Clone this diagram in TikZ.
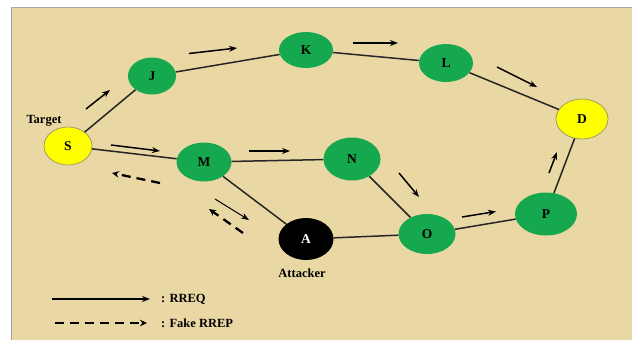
\documentclass[tikz,border=0pt]{standalone}
\usepackage{fontspec}
\setmainfont{Liberation Serif}
\usetikzlibrary{arrows.meta,shapes.geometric}
\definecolor{tan}{RGB}{234,216,164}
\definecolor{ngreen}{RGB}{22,168,78}
\definecolor{nyellow}{RGB}{255,255,0}
\definecolor{yedge}{RGB}{150,150,100}
\tikzset{
  edge/.style={line width=1.5pt,black!85},
  msg/.style={line width=1.5pt,-{Stealth[length=8pt,width=6pt]}},
  fake/.style={line width=2.3pt,dash pattern=on 9pt off 6pt,-{Stealth[length=7pt,width=6.5pt]}},
  lbl/.style={font=\fontsize{12.5}{14}\selectfont\bfseries,inner sep=0pt},
}
\newcommand{\enode}[7]{\fill[#6] (#2,#3) ellipse [x radius=#4,y radius=#5];
  \node[inner sep=0pt,minimum width=2*#4pt,minimum height=2*#5pt,ellipse,text=#7,font=\fontsize{13.5}{15}\selectfont\bfseries] (#1) at (#2,#3) {#1};}
\begin{document}
\begin{tikzpicture}[x=1pt,y=-1pt]
\useasboundingbox (0,0) rectangle (632,340);
\fill[white] (0,0) rectangle (632,340);
\fill[tan] (11,7) rectangle (632,340);
\draw[gray!70,line width=1pt] (11,340) -- (11,7) -- (632,7);
% nodes
\enode{S}{68}{146}{24}{19}{nyellow}{black}
\draw[yedge,line width=0.7pt] (S.center) ellipse [x radius=24,y radius=19];
\enode{J}{152}{76}{24}{18.5}{ngreen}{black}
\enode{K}{306}{50}{27}{18}{ngreen}{black}
\enode{L}{446}{63}{27}{19}{ngreen}{black}
\enode{D}{582}{119}{26}{20}{nyellow}{black}
\draw[yedge,line width=0.7pt] (D.center) ellipse [x radius=26,y radius=20];
\enode{M}{204}{162}{27.5}{19.5}{ngreen}{black}
\enode{N}{352}{159}{28.5}{21.5}{ngreen}{black}
\enode{O}{427}{234}{28.5}{20}{ngreen}{black}
\enode{P}{546}{214}{31}{21.5}{ngreen}{black}
\enode{A}{306}{239}{27.5}{21}{black}{white}
% edges
\draw[edge] (S) -- (J);
\draw[edge] (J) -- (K);
\draw[edge] (K) -- (L);
\draw[edge] (L) -- (D);
\draw[edge] (D) -- (P);
\draw[edge] (P) -- (O);
\draw[edge] (O) -- (N);
\draw[edge] (N) -- (M);
\draw[edge] (M) -- (S);
\draw[edge] (M) -- (A);
\draw[edge] (A) -- (O);
% labels
\node[lbl] (tgt) at (44,121) {Target};
\node[lbl] (att) at (302,273) {Attacker};
% message arrows
\coordinate (a1s) at (86,109); \coordinate (a1e) at (110,90);
\coordinate (a2s) at (189,53.5); \coordinate (a2e) at (237,48);
\coordinate (a3s) at (353,43); \coordinate (a3e) at (398,43);
\coordinate (a4s) at (497,67); \coordinate (a4e) at (537,87);
\coordinate (a5s) at (549,173); \coordinate (a5e) at (557,152);
\coordinate (a6s) at (462,217); \coordinate (a6e) at (496,211.5);
\coordinate (a7s) at (399,173); \coordinate (a7e) at (419,197);
\coordinate (a8s) at (249,151); \coordinate (a8e) at (290,151);
\coordinate (a9s) at (111,145); \coordinate (a9e) at (160,151);
\coordinate (a10s) at (215,199); \coordinate (a10e) at (249,220);
\draw[msg] (a1s) -- (a1e);
\draw[msg] (a2s) -- (a2e);
\draw[msg] (a3s) -- (a3e);
\draw[msg] (a4s) -- (a4e);
\draw[msg] (a5s) -- (a5e);
\draw[msg] (a6s) -- (a6e);
\draw[msg] (a7s) -- (a7e);
\draw[msg] (a8s) -- (a8e);
\draw[msg] (a9s) -- (a9e);
\draw[msg,line width=1pt] (a10s) -- (a10e);
\coordinate (f1s) at (160,183); \coordinate (f1e) at (112,173);
\coordinate (f2s) at (243,233); \coordinate (f2e) at (209,209);
\draw[fake] (f1s) -- (f1e);
\draw[fake] (f2s) -- (f2e);
% legend
\coordinate (l1s) at (52,299); \coordinate (l1e) at (150,299);
\coordinate (l2s) at (55,323); \coordinate (l2e) at (147,323);
\draw[msg] (l1s) -- (l1e);
\draw[fake] (l2s) -- (l2e);
\node[lbl,anchor=west] (rreq) at (161,299) {: RREQ};
\node[lbl,anchor=west] (frrep) at (161,323) {: Fake RREP};
\end{tikzpicture}
\end{document}
